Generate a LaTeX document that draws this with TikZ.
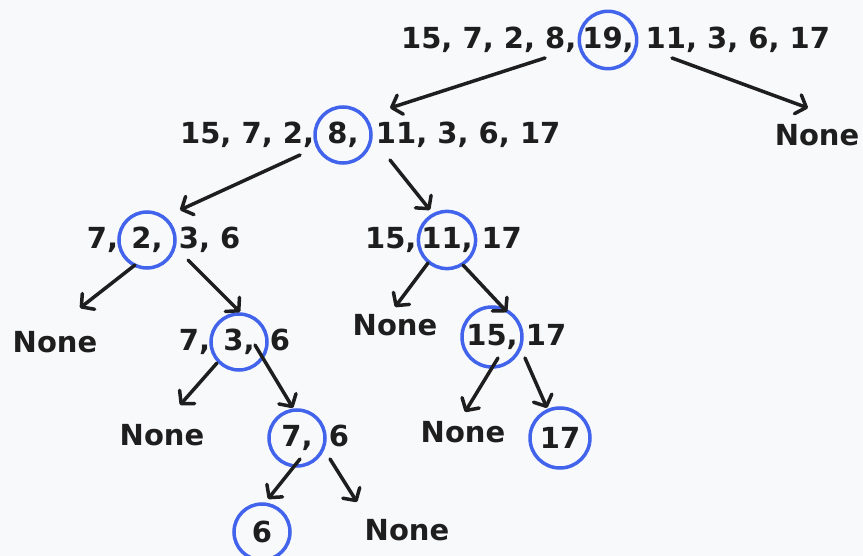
\documentclass[tikz,border=0pt]{standalone}
\usepackage{fontspec}
\setmainfont{DejaVu Sans}
\usetikzlibrary{positioning,arrows.meta}
\definecolor{pickblue}{HTML}{4263EB}
\definecolor{ink}{HTML}{1E1E1E}
\definecolor{paper}{HTML}{F8F9FB}
\tikzset{%
  seq/.style   = {font=\bfseries\fontsize{29}{31}\selectfont, text=ink, inner sep=0pt},%
  pivot/.style = {seq, circle, draw=pickblue, line width=3.5pt, minimum size=56pt},%
  nil/.style   = {seq},%
  arr/.style   = {draw=ink, line width=3.5pt, line cap=round,%
                  -{Straight Barb[length=9pt,width=20pt,round]}}%
}
\begin{document}
\begin{tikzpicture}[x=1pt,y=-1pt]
	\fill[paper] (0,0) rectangle (863,556);
	\useasboundingbox (0,0) rectangle (863,556);
	% pivots
	\node [pivot] (c19) at (608,40) {19,};
	\node [pivot] (c8) at (343,135) {8,};
	\node [pivot] (c2) at (147,240) {2,};
	\node [pivot] (c11) at (447,240) {11,};
	\node [pivot] (c3) at (239,342) {3,};
	\node [pivot, minimum size=60pt] (c15) at (492,337) {15,};
	\node [pivot] (c7) at (297,438) {7,};
	\node [pivot, minimum size=60pt] (c17) at (560,438) {17};
	\node [pivot] (c6) at (262,532) {6};
	% rest of each list
	\node [seq, base left=1pt of c19] (l19) {15, 7, 2, 8,};
	\node [seq, base right=7pt of c19] (r19) {11, 3, 6, 17};
	\node [seq, base left=-1pt of c8] (l8) {15, 7, 2,};
	\node [seq, base right=3pt of c8] (r8) {11, 3, 6, 17};
	\node [seq, base left=-1pt of c2] (l2) {7,};
	\node [seq, base right=2pt of c2] (r2) {3, 6};
	\node [seq, base left=0pt of c11] (l11) {15,};
	\node [seq, base right=4pt of c11] (r11) {17};
	\node [seq, base left=-1pt of c3] (l3) {7,};
	\node [seq, base right=1pt of c3] (r3) {6};
	\node [seq, base right=2pt of c15] (r15) {17};
	\node [seq, base right=2pt of c7] (r7) {6};
	% empty sides
	\node [nil] (nA) at (817,135) {None};
	\node [nil] (nB) at (55,342) {None};
	\node [nil] (nC) at (395,325) {None};
	\node [nil] (nD) at (162,435) {None};
	\node [nil] (nE) at (463,432) {None};
	\node [nil] (nF) at (407,530) {None};
	% arrow ends
	\coordinate (o19l) at (545,58);  \coordinate (i8) at (390,108);
	\coordinate (o19r) at (672,58);  \coordinate (inA) at (808,108);
	\coordinate (o8l) at (300,155);  \coordinate (i2) at (180,210);
	\coordinate (o8r) at (390,160);  \coordinate (i11) at (430,210);
	\coordinate (o2l) at (135,265);  \coordinate (inB) at (80,308);
	\coordinate (o2r) at (188,260);  \coordinate (i3) at (240,312);
	\coordinate (o3l) at (217,363);  \coordinate (inD) at (180,405);
	\coordinate (o3r) at (255,345);  \coordinate (i7) at (293,408);
	\coordinate (o7l) at (300,459);  \coordinate (i6) at (268,499);
	\coordinate (o7r) at (330,459);  \coordinate (inF) at (357,502);
	\coordinate (o11l) at (428,263); \coordinate (inC) at (395,307);
	\coordinate (o11r) at (463,265); \coordinate (i15) at (507,312);
	\coordinate (o15l) at (498,358); \coordinate (inE) at (465,412);
	\coordinate (o15r) at (525,358); \coordinate (i17) at (547,408);
	\draw [arr] (o19l) -- (i8);
	\draw [arr] (o19r) -- (inA);
	\draw [arr] (o8l) -- (i2);
	\draw [arr] (o8r) -- (i11);
	\draw [arr] (o2l) -- (inB);
	\draw [arr] (o2r) -- (i3);
	\draw [arr] (o3l) -- (inD);
	\draw [arr] (o3r) -- (i7);
	\draw [arr] (o7l) -- (i6);
	\draw [arr] (o7r) -- (inF);
	\draw [arr] (o11l) -- (inC);
	\draw [arr] (o11r) -- (i15);
	\draw [arr] (o15l) -- (inE);
	\draw [arr] (o15r) -- (i17);
\end{tikzpicture}
\end{document}
